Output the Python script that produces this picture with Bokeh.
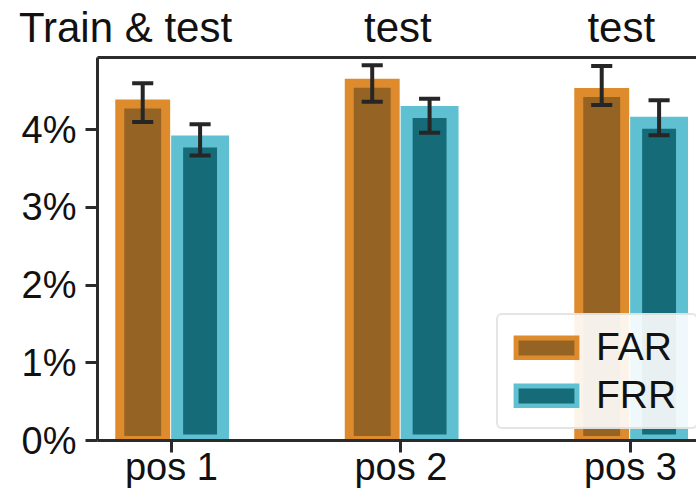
import numpy as np
from bokeh.plotting import figure
from bokeh.models import (ColumnDataSource, FixedTicker, LinearAxis, Range1d,
                          Legend, LegendItem)
from bokeh.embed import file_html
from bokeh.resources import INLINE

# ---- data ----
categories = ["pos 1", "pos 2", "pos 3"]
far_values = [4.33, 4.60, 4.48]
far_lower = [4.10, 4.36, 4.32]
far_upper = [4.60, 4.83, 4.82]
frr_values = [3.85, 4.23, 4.09]
frr_lower = [3.67, 3.96, 3.93]
frr_upper = [4.07, 4.40, 4.38]
y_ticks = [0, 1, 2, 3, 4]
y_tick_labels = ["0%", "1%", "2%", "3%", "4%"]
group_titles = ["Train & test", "test", "test"]
title_positions = [-0.20, 0.987, 1.96]

FONT = "Liberation Sans"
AX = "#2b2b2b"
ERR = "#262626"
FAR_OUT, FAR_IN = "#dd8b2d", "#956323"
FRR_OUT, FRR_IN = "#5fc0d1", "#156b78"

xc = np.arange(len(categories), dtype=float)
off = 0.125
bw = 0.2
cap = 0.046

def make_src(dx, vals, lo, hi):
    x = xc + dx
    return ColumnDataSource(dict(x=x, top=vals, lo=lo, hi=hi,
                                 xl=x - cap, xr=x + cap))

far_src = make_src(-off, far_values, far_lower, far_upper)
frr_src = make_src(off, frr_values, frr_lower, frr_upper)

p = figure(width=696, height=496, output_backend="svg", toolbar_location=None,
           x_range=Range1d(-0.322, 2.288), y_range=Range1d(0, 4.93),
           min_border_left=97, min_border_top=57, min_border_bottom=56,
           min_border_right=0)
p.outline_line_color = None
p.grid.visible = False

# legend-handle renderers (thin edge); drawn first, fully covered by the bars
h_far = p.vbar(x="x", top="top", bottom=0, width=bw, source=far_src,
               fill_color=FAR_IN, line_color=FAR_OUT, line_width=5,
               line_join="miter")
h_frr = p.vbar(x="x", top="top", bottom=0, width=bw, source=frr_src,
               fill_color=FRR_IN, line_color=FRR_OUT, line_width=5,
               line_join="miter")

r_far = p.vbar(x="x", top="top", bottom=0, width=bw, source=far_src,
               fill_color=FAR_IN, line_color=FAR_OUT, line_width=9,
               line_join="miter")
r_frr = p.vbar(x="x", top="top", bottom=0, width=bw, source=frr_src,
               fill_color=FRR_IN, line_color=FRR_OUT, line_width=12,
               line_join="miter")

for src in (far_src, frr_src):
    p.segment(x0="x", y0="lo", x1="x", y1="hi", source=src,
              line_color=ERR, line_width=4, line_cap="butt")
    p.segment(x0="xl", y0="lo", x1="xr", y1="lo", source=src,
              line_color=ERR, line_width=4, line_cap="butt")
    p.segment(x0="xl", y0="hi", x1="xr", y1="hi", source=src,
              line_color=ERR, line_width=4, line_cap="butt")

# axes
xa = p.xaxis[0]
xa.ticker = FixedTicker(ticks=list(xc))
xa.major_label_overrides = {float(i): c for i, c in zip(xc, categories)}
ya = p.yaxis[0]
ya.ticker = FixedTicker(ticks=y_ticks)
ya.major_label_overrides = {t: l for t, l in zip(y_ticks, y_tick_labels)}
for ax in (xa, ya):
    ax.axis_line_color = AX
    ax.axis_line_width = 3
    ax.major_tick_line_color = AX
    ax.major_tick_line_width = 3
    ax.major_tick_out = 12
    ax.major_tick_in = 0
    ax.minor_tick_line_color = None
    ax.major_label_text_font = FONT
    ax.major_label_text_font_size = "38px"
    ax.major_label_text_color = "#111111"
xa.major_label_standoff = -7
ya.major_label_standoff = 9

# top spine + group titles
top_axis = LinearAxis(ticker=FixedTicker(ticks=title_positions),
                      axis_line_color=AX, axis_line_width=3,
                      major_tick_line_color=None, major_tick_out=0,
                      major_tick_in=0, minor_tick_line_color=None,
                      major_label_text_font=FONT,
                      major_label_text_font_size="42px",
                      major_label_text_color="#111111",
                      major_label_standoff=7)
top_axis.major_label_overrides = {t: s for t, s in zip(title_positions, group_titles)}
p.add_layout(top_axis, "above")

legend = Legend(items=[LegendItem(label="FAR", renderers=[h_far]),
                       LegendItem(label="FRR", renderers=[h_frr])],
                location=(399, 11), label_text_font=FONT,
                label_text_font_size="39px", label_text_color="#111111",
                glyph_width=76, glyph_height=25, label_height=40,
                label_width=90, label_standoff=12, padding=10, spacing=4,
                border_line_color="#cccccc", border_line_width=2,
                background_fill_color="white", background_fill_alpha=0.9)
try:
    legend.border_radius = 6
except Exception:
    pass
p.add_layout(legend)

open("out.html", "w").write(file_html(p, INLINE))
